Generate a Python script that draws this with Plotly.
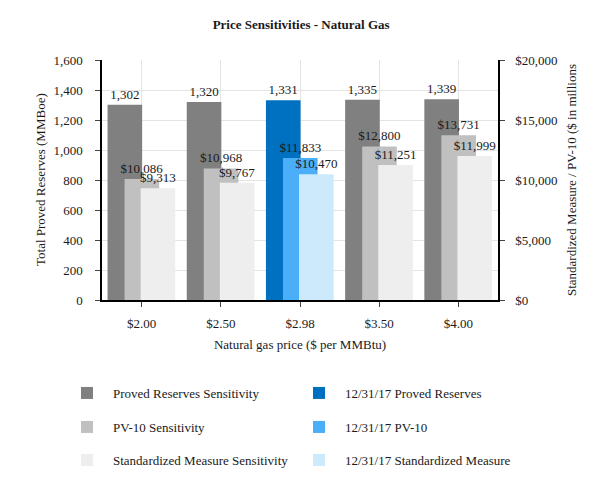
import plotly.graph_objects as go

categories = ["$2.00", "$2.50", "$2.98", "$3.50", "$4.00"]
proved_reserves = [1302, 1320, 1331, 1335, 1339]
pv10 = [10086, 10968, 11833, 12800, 13731]
std_measure = [9313, 9767, 10470, 11251, 11999]
highlight_category = "$2.98"

FONT = "Liberation Serif"
TXT = "#1a1a1a"
W, H = 597, 480

sens_colors = ["#808080", "#c0c0c0", "#eeeeee"]
hi_colors = ["#0070c0", "#4aaef8", "#cdeafd"]
sens_names = ["Proved Reserves Sensitivity", "PV-10 Sensitivity", "Standardized Measure Sensitivity"]
hi_names = ["12/31/17 Proved Reserves", "12/31/17 PV-10", "12/31/17 Standardized Measure"]
series = [proved_reserves, pv10, std_measure]
templates = ["%{y:,}", "$%{y:,}", "$%{y:,}"]
axes = ["y", "y2", "y2"]
offsets = [-0.43, -0.215, -0.012]
width = 0.437
row_y = [385, 419, 452]
col_x = [53, 285]

fig = go.Figure()
legend_layouts = {}
k = 0
for i in range(3):
    for j, hi in enumerate((False, True)):
        k += 1
        lname = "legend" if k == 1 else f"legend{k}"
        xs = [c for c in categories if (c == highlight_category) == hi]
        ys = [v for c, v in zip(categories, series[i]) if (c == highlight_category) == hi]
        fig.add_trace(go.Bar(
            x=xs, y=ys, yaxis=axes[i],
            name=hi_names[i] if hi else sens_names[i],
            marker=dict(color=hi_colors[i] if hi else sens_colors[i], line=dict(width=0)),
            offset=offsets[i], width=width,
            texttemplate=templates[i], textposition="outside", constraintext="none",
            textfont=dict(family=FONT, size=13, color=TXT),
            cliponaxis=False, legend=lname, showlegend=True,
        ))
        legend_layouts[lname] = dict(
            xref="container", yref="container",
            x=col_x[j] / W, xanchor="left", y=1 - row_y[i] / H, yanchor="middle",
            font=dict(family=FONT, size=13, color=TXT), itemwidth=42,
            bgcolor="rgba(0,0,0,0)", visible=True)

fig.update_layout(
    width=W, height=H,
    showlegend=True,
    margin=dict(l=94, r=107, t=52, b=188, autoexpand=False),
    paper_bgcolor="white", plot_bgcolor="white",
    barmode="overlay",
    font=dict(family=FONT, size=13, color=TXT),
    title=dict(text="<b>Price Sensitivities - Natural Gas</b>", x=0.491, xanchor="center",
               yref="container", y=0.965, yanchor="middle",
               font=dict(family=FONT, size=13, color=TXT)),
    xaxis=dict(type="category", categoryorder="array", categoryarray=categories,
               range=[-0.5, 4.5], showgrid=True, gridcolor="#e4e4e4",
               showline=True, linecolor="black", linewidth=1.5,
               ticks="outside", ticklen=5, tickcolor="#444", ticklabelstandoff=6,
               title=dict(text="Natural gas price ($ per MMBtu)", standoff=10,
                          font=dict(family=FONT, size=13)),
               tickfont=dict(family=FONT, size=13)),
    yaxis=dict(range=[0, 1600], dtick=200, tickformat=",", showgrid=True, gridcolor="#e4e4e4",
               showline=True, linecolor="black", linewidth=1.5, ticks="outside", ticklen=5,
               tickcolor="#444", zeroline=False, ticklabelstandoff=10,
               tickfont=dict(family=FONT, size=13)),
    yaxis2=dict(range=[0, 20000], dtick=5000, tickformat=",", tickprefix="$",
                overlaying="y", side="right", showgrid=False,
                showline=True, linecolor="black", linewidth=1.5, ticks="outside", ticklen=5,
                tickcolor="#444", zeroline=False, ticklabelstandoff=8,
                title=dict(text="Standardized Measure / PV-10 ($ in millions", standoff=10,
                           font=dict(family=FONT, size=13)),
                tickfont=dict(family=FONT, size=13)),
    annotations=[dict(text="Total Proved Reserves (MMBoe)", xref="paper", yref="paper",
                      x=-62 / 396, y=0.5, xanchor="center", yanchor="middle",
                      textangle=-90, showarrow=False,
                      font=dict(family=FONT, size=13, color=TXT))],
    **legend_layouts,
)

fig.write_html("out.html")
